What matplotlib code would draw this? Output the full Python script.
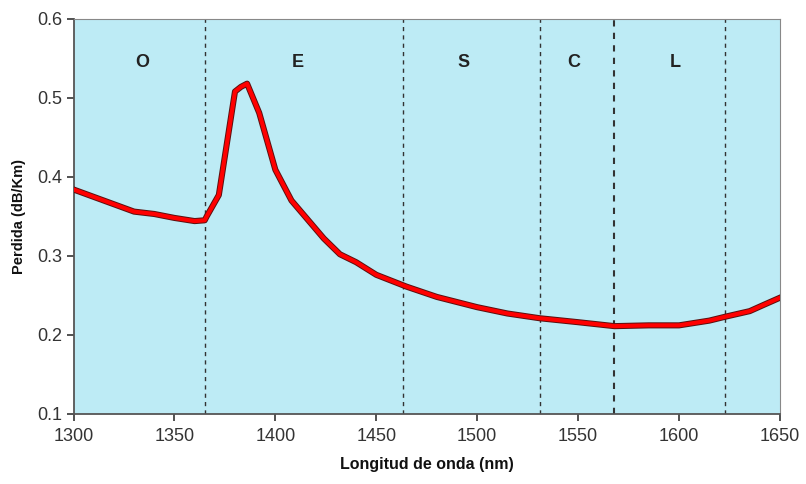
import matplotlib
matplotlib.use("Agg")
import matplotlib.pyplot as plt
import matplotlib.patheffects as pe

# measured attenuation curve (nm, dB/km)
wavelength = [1300, 1315, 1330, 1340, 1350, 1360, 1365, 1366, 1372, 1380, 1383, 1386,
              1392, 1400, 1408, 1416, 1424, 1432, 1440, 1450, 1465, 1480, 1500,
              1515, 1531, 1550, 1568, 1585, 1600, 1615, 1623, 1635, 1642, 1650]
loss = [0.384, 0.370, 0.356, 0.353, 0.348, 0.344, 0.345, 0.350, 0.377, 0.508, 0.514, 0.518,
        0.481, 0.409, 0.370, 0.346, 0.322, 0.302, 0.292, 0.276, 0.261, 0.248, 0.235,
        0.227, 0.221, 0.216, 0.211, 0.212, 0.212, 0.218, 0.223, 0.230, 0.238, 0.247]

band_edges = [1365, 1463, 1531, 1568, 1623]
edge_widths = [1.0, 1.0, 1.0, 1.5, 1.0]
band_names = ["O", "E", "S", "C", "L"]
band_label_x = [1334, 1411, 1493, 1548, 1598]

plt.rcParams["font.family"] = ["Liberation Sans", "DejaVu Sans"]
fig = plt.figure(figsize=(8.06, 4.84), dpi=100)
ax = fig.add_axes([0.0912, 0.145, 0.8765, 0.816])
ax.set_facecolor("#bdebf5")

for x, w in zip(band_edges, edge_widths):
    ax.axvline(x, color="#333333", lw=w, ls=(0, (3, 3)), zorder=1)

ax.plot(wavelength, loss, color="#ff0000", lw=3.0, zorder=3,
        solid_joinstyle="round",
        path_effects=[pe.Stroke(linewidth=4.4, foreground="#5a1010"), pe.Normal()])

for name, x in zip(band_names, band_label_x):
    ax.text(x, 0.545, name, ha="center", va="center", fontsize=13,
            fontweight="bold", color="#222222")

ax.set_xlim(1300, 1650)
ax.set_ylim(0.1, 0.6)
ax.set_xticks(range(1300, 1651, 50))
ax.set_yticks([0.1, 0.2, 0.3, 0.4, 0.5, 0.6])
ax.set_yticklabels(["0.1", "0.2", "0.3", "0.4", "0.5", "0.6"])
ax.tick_params(axis="both", labelsize=13, colors="#333333", length=5, width=1.2)
ax.tick_params(axis="y", pad=3)
ax.tick_params(axis="x", pad=5)
for side in ["left", "bottom"]:
    ax.spines[side].set_color("#555555")
    ax.spines[side].set_linewidth(1.3)
for side in ["top", "right"]:
    ax.spines[side].set_color("#888888")
    ax.spines[side].set_linewidth(0.8)

ax.set_xlabel("Longitud de onda (nm)", fontsize=11.5, fontweight="bold",
              color="#111111", labelpad=9)
ax.set_ylabel("Perdida (dB/Km)", fontsize=10.5, fontweight="bold",
              color="#111111", labelpad=8)

fig.savefig("out.png", dpi=100)
